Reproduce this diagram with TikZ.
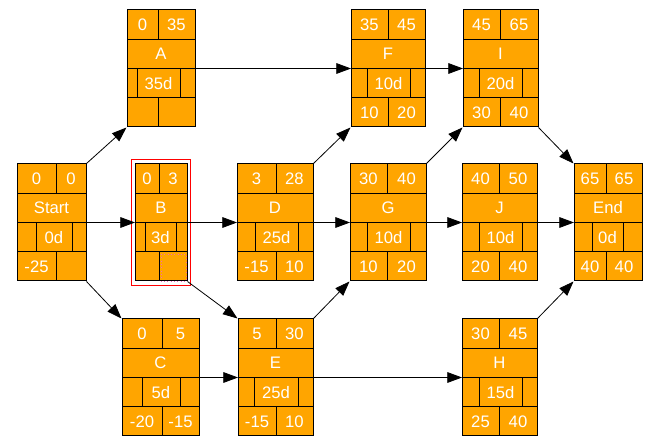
\documentclass[tikz,border=0pt]{standalone}
\usepackage{fontspec}
\setmainfont{Liberation Sans}
\usetikzlibrary{fit,arrows.meta}
\definecolor{boxor}{HTML}{FFA500}
\tikzset{x=0.75pt,y=-0.75pt,
 box/.style={draw=black,fill=boxor,inner sep=0pt,line width=0.75pt},
 grid/.style={draw=black,line width=0.75pt},
 lbl/.style={text=white,font=\fontsize{12.5}{14}\selectfont,inner sep=0pt},
 conn/.style={draw=black,line width=0.6pt,-{Triangle[length=11pt,width=8pt]}}}
\newcommand\tbox[7]{%
 \node[box,fit={(#2,#3) (#4,#3+117)}] (#1) {};
 \draw[grid] (#2,#3+29.5) -- (#4,#3+29.5) (#2,#3+58.5) -- (#4,#3+58.5) (#2,#3+88) -- (#4,#3+88)
   (#5,#3) -- (#5,#3+29.5) (#6,#3+58.5) -- (#6,#3+88) (#7,#3+58.5) -- (#7,#3+88) (#5,#3+88) -- (#5,#3+117);
 \coordinate (#1-l) at (#2,#3+58.5);
 \coordinate (#1-r) at (#4,#3+58.5);
 \coordinate (#1-t1) at ({(#2+#5)/2},#3+15);
 \coordinate (#1-t2) at ({(#5+#4)/2},#3+15);
 \coordinate (#1-n) at ({(#2+#4)/2},#3+44);
 \coordinate (#1-d) at ({(#6+#7)/2},#3+73.5);
 \coordinate (#1-b1) at ({(#2+#5)/2},#3+103);
 \coordinate (#1-b2) at ({(#5+#4)/2},#3+103);
}
\newcommand\ttext[7]{%
 \node[lbl] (#1-T1) at (#1-t1) {#2};
 \node[lbl] (#1-T2) at (#1-t2) {#3};
 \node[lbl] (#1-N) at (#1-n) {#4};
 \node[lbl] (#1-D) at (#1-d) {#5};
 \node[lbl] (#1-B1) at (#1-b1) {#6};
 \node[lbl] (#1-B2) at (#1-b2) {#7};
}
\begin{document}
\begin{tikzpicture}
\useasboundingbox (0,0) rectangle (647,445);
\tbox{Start}{17}{164}{86}{56}{36}{72}\ttext{Start}{0}{0}{Start}{0d}{-25}{}
\tbox{A}{127}{10}{195}{158}{137}{180}\ttext{A}{0}{35}{A}{35d}{}{}
\tbox{B}{135}{164}{187}{159}{145}{176}\ttext{B}{0}{3}{B}{3d}{}{}
\tbox{C}{122}{319}{199}{162}{142}{180}\ttext{C}{0}{5}{C}{5d}{-20}{-15}
\tbox{D}{237}{164}{313}{276}{255}{298}\ttext{D}{3}{28}{D}{25d}{-15}{10}
\tbox{E}{238}{319}{313}{276}{254}{298}\ttext{E}{5}{30}{E}{25d}{-15}{10}
\tbox{F}{351}{10}{425}{388}{367}{410}\ttext{F}{35}{45}{F}{10d}{10}{20}
\tbox{G}{350}{164}{426}{387}{367}{410}\ttext{G}{30}{40}{G}{10d}{10}{20}
\tbox{H}{462}{319}{537}{499}{479}{522}\ttext{H}{30}{45}{H}{15d}{25}{40}
\tbox{I}{463}{10}{538}{500}{479}{522}\ttext{I}{45}{65}{I}{20d}{30}{40}
\tbox{J}{462}{164}{537}{499}{479}{522}\ttext{J}{40}{50}{J}{10d}{20}{40}
\tbox{End}{574}{164}{642}{606}{592}{623}\ttext{End}{65}{65}{End}{0d}{40}{40}
\draw[red,line width=0.75pt] (131,160) rectangle (190.5,286);
\draw[magenta!60,dotted,line width=0.5pt] (161,254) rectangle (186,281);
\draw[conn] (Start.north east) -- (A.south west);
\draw[conn] (Start-r) -- (B-l);
\draw[conn] (Start.south east) -- (C.north west);
\draw[conn] (A-r) -- (F-l);
\draw[conn] (B-r) -- (D-l);
\draw[conn] (B.south east) -- (E.north west);
\draw[conn] (C-r) -- (E-l);
\draw[conn] (D.north east) -- (F.south west);
\draw[conn] (D-r) -- (G-l);
\draw[conn] (E.north east) -- (G.south west);
\draw[conn] (E-r) -- (H-l);
\draw[conn] (F-r) -- (I-l);
\draw[conn] (G.north east) -- (I.south west);
\draw[conn] (G-r) -- (J-l);
\draw[conn] (I.south east) -- (End.north west);
\draw[conn] (J-r) -- (End-l);
\draw[conn] (H.north east) -- (End.south west);
\end{tikzpicture}
\end{document}
